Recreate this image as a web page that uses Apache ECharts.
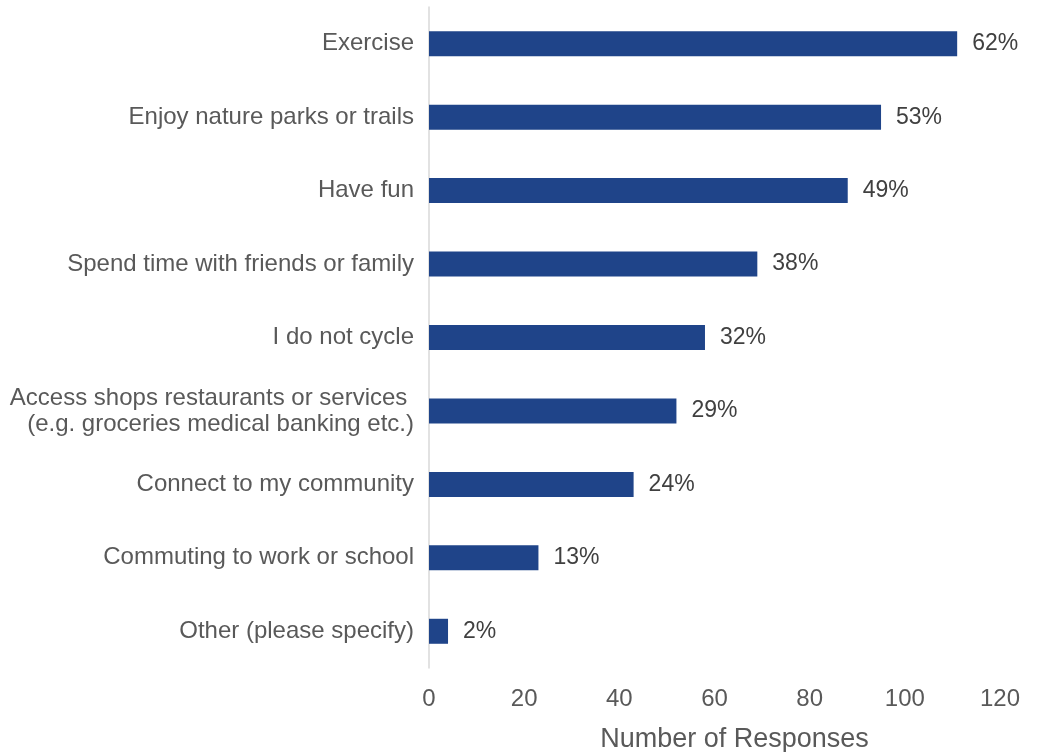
<!DOCTYPE html>
<html>
<head>
<meta charset="utf-8">
<style>
  html, body { margin: 0; padding: 0; background: #ffffff; }
  #chart { width: 1038px; height: 752px; }
</style>
<script src="https://cdn.jsdelivr.net/npm/echarts@6/dist/echarts.min.js"></script>
</head>
<body>
<div id="chart"></div>
<script>
// Reasons for cycling — survey responses
const categories = [
  'Exercise',
  'Enjoy nature parks or trails',
  'Have fun',
  'Spend time with friends or family',
  'I do not cycle',
  'Access shops restaurants or services \n(e.g. groceries medical banking etc.)',
  'Connect to my community',
  'Commuting to work or school',
  'Other (please specify)'
];
const responses = [111, 95, 88, 69, 58, 52, 43, 23, 4];
const percentLabels = ['62%', '53%', '49%', '38%', '32%', '29%', '24%', '13%', '2%'];
const xTicks = [0, 20, 40, 60, 80, 100, 120];

const textColor = '#595959';
const fontFamily = '"Liberation Sans", Arial, sans-serif';

const chart = echarts.init(document.getElementById('chart'), null, { renderer: 'canvas' });

chart.setOption({
  animation: false,
  textStyle: { fontFamily: fontFamily },
  grid: { left: 429, right: 38, top: 7, bottom: 84, containLabel: false, outerBoundsMode: 'none' },
  xAxis: {
    type: 'value',
    min: xTicks[0],
    max: xTicks[xTicks.length - 1],
    interval: xTicks[1] - xTicks[0],
    axisLine: { show: false },
    axisTick: { show: false },
    splitLine: { show: false },
    axisLabel: { color: textColor, fontSize: 24, margin: 19, fontFamily: fontFamily },
    name: 'Number of Responses',
    nameLocation: 'middle',
    nameGap: 58,
    nameTextStyle: { color: textColor, fontSize: 27, fontFamily: fontFamily, padding: [0, 0, 0, 40] }
  },
  yAxis: {
    type: 'category',
    data: categories,
    inverse: true,
    axisLine: { show: true, lineStyle: { color: '#d9d9d9', width: 1.5 } },
    axisTick: { show: false },
    axisLabel: {
      color: textColor,
      fontSize: 24,
      margin: 15,
      lineHeight: 26,
      align: 'right',
      fontFamily: fontFamily
    }
  },
  series: [{
    type: 'bar',
    data: responses,
    barWidth: 25,
    itemStyle: { color: '#1f4489' },
    label: {
      show: true,
      position: 'right',
      distance: 15,
      color: '#404040',
      fontSize: 23,
      fontFamily: fontFamily,
      formatter: p => percentLabels[p.dataIndex]
    }
  }]
});
</script>
</body>
</html>
